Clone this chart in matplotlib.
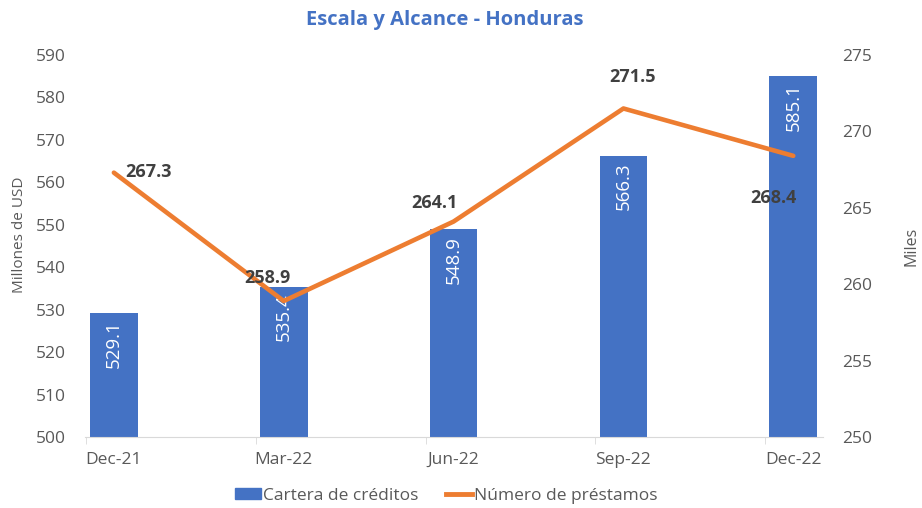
import matplotlib
matplotlib.use("Agg")
from matplotlib import pyplot as plt
from matplotlib.patches import Patch
from matplotlib.lines import Line2D

font = {'size': 12, 'family': ['Open Sans', 'DejaVu Sans']}
matplotlib.rc('font', **font)

periods = ["Dec-21", "Mar-22", "Jun-22", "Sep-22", "Dec-22"]
cartera = [529.1, 535.4, 548.9, 566.3, 585.1]
prestamos = [267.3, 258.9, 264.1, 271.5, 268.4]

BLUE = "#4472C4"
ORANGE = "#ED7D31"
GRAY = "#595959"

fig = plt.figure(figsize=(9.22, 5.08), dpi=100)
ax = fig.add_axes([85 / 922, 1 - 437 / 508, (823 - 85) / 922, (437 - 55) / 508])
ax2 = ax.twinx()

offset = 0.165
pos = [i + offset for i in range(len(periods))]
ax.bar(pos, cartera, width=0.28, color=BLUE, zorder=2)
ax2.plot(pos, prestamos, color=ORANGE, lw=3.3, solid_capstyle="round", zorder=3)

ax.set_ylim(500, 590)
ax.set_yticks(range(500, 591, 10))
ax2.set_ylim(250, 275)
ax2.set_yticks(range(250, 276, 5))
ax.set_xlim(-0.005, 4.34)
ax.set_xticks(pos)
ax.set_xticklabels(periods)
ax.set_xticks(range(len(periods)), minor=True)
ax.tick_params(axis="x", which="major", length=0, pad=11, colors=GRAY, labelsize=12.5)
ax.tick_params(axis="x", which="minor", length=5, color="#D9D9D9")
ax.tick_params(axis="y", length=0, colors=GRAY, labelsize=12.5, pad=14)
ax2.tick_params(axis="y", length=0, colors=GRAY, labelsize=12.5, pad=14)

for a in (ax, ax2):
    for s in ("top", "left", "right"):
        a.spines[s].set_visible(False)
ax.spines["bottom"].set_color("#D9D9D9")
ax2.spines["bottom"].set_visible(False)

ax.set_ylabel("Millones de USD", color=GRAY, fontsize=11)
ax.yaxis.set_label_coords(-58 / 738, 0.53)
ax2.set_ylabel("Miles", color=GRAY, fontsize=11.5)
ax2.yaxis.set_label_coords(1 + 80 / 738, 0.5)

# bar labels, white and rotated inside the top
for x, v in zip(pos, cartera):
    ax.annotate(f"{v:.1f}", (x, v), xytext=(0, -7), textcoords="offset pixels",
                rotation=90, ha="center", va="top", color="white",
                fontsize=13.5, zorder=4)

# line labels
offsets = [(11, 1, "left"), (-16, 23, "center"), (-19, 19, "center"),
           (9, 31, "center"), (-20, -42, "center")]
for x, v, (dx, dy, ha) in zip(pos, prestamos, offsets):
    ax2.annotate(f"{v:.1f}", (x, v), xytext=(dx, dy), textcoords="offset pixels",
                 ha=ha, va="center", fontsize=13, fontweight="bold",
                 color="#404040", zorder=5)

fig.text(445 / 922, 1 - 20 / 508, "Escala y Alcance - Honduras", ha="center", va="center",
         fontsize=14.5, fontweight="bold", color=BLUE)

handles = [Patch(color=BLUE, label="Cartera de créditos"),
           Line2D([0], [0], color=ORANGE, lw=3.5, label="Número de préstamos")]
fig.legend(handles=handles, loc="center", bbox_to_anchor=(446 / 922, 1 - 496 / 508), ncol=2,
           frameon=False, fontsize=12.5, labelcolor=GRAY, handlelength=1.5,
           handleheight=0.6, handletextpad=0.1, columnspacing=1.6)

plt.savefig("out.png", format="png")
